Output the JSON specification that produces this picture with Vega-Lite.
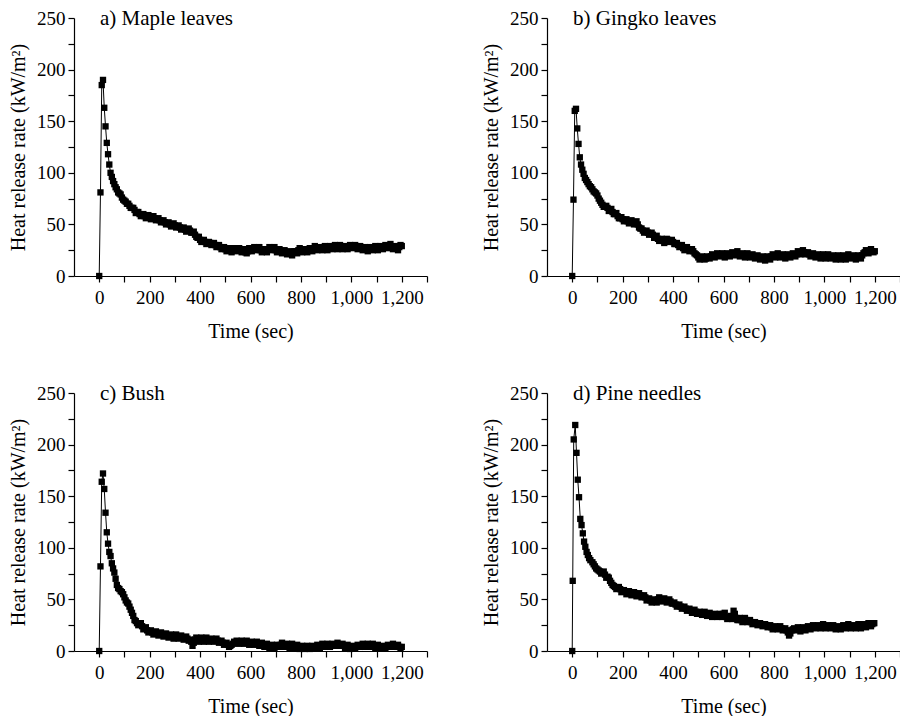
{
  "$schema": "https://vega.github.io/schema/vega-lite/v6.json",
  "padding": {"left": 8, "top": 8, "right": 0, "bottom": 0},
  "background": "white",
  "datasets": {
    "maple": [
      {"t":0,"hrr":0},{"t":5,"hrr":81},{"t":10,"hrr":185},{"t":15,"hrr":190},{"t":20,"hrr":163},{"t":25,"hrr":145},{"t":30,"hrr":129},{"t":35,"hrr":118},{"t":40,"hrr":108},{"t":45,"hrr":100},{"t":50,"hrr":96},{"t":55,"hrr":92},{"t":60,"hrr":89},{"t":65,"hrr":86},{"t":70,"hrr":84},{"t":80,"hrr":80},{"t":90,"hrr":76},{"t":100,"hrr":73},{"t":110,"hrr":70},{"t":120,"hrr":68},{"t":130,"hrr":66},{"t":140,"hrr":64},{"t":150,"hrr":62},{"t":160,"hrr":60},{"t":170,"hrr":59},{"t":180,"hrr":58},{"t":190,"hrr":58},{"t":200,"hrr":57},{"t":210,"hrr":57},{"t":220,"hrr":56},{"t":230,"hrr":55},{"t":240,"hrr":54},{"t":250,"hrr":53},{"t":260,"hrr":52},{"t":270,"hrr":51},{"t":280,"hrr":50},{"t":290,"hrr":50},{"t":300,"hrr":49},{"t":310,"hrr":48},{"t":320,"hrr":47},{"t":330,"hrr":46},{"t":340,"hrr":45},{"t":350,"hrr":44},{"t":360,"hrr":44},{"t":370,"hrr":42},{"t":380,"hrr":40},{"t":390,"hrr":37},{"t":400,"hrr":35},{"t":410,"hrr":34},{"t":420,"hrr":33},{"t":430,"hrr":32},{"t":440,"hrr":32},{"t":450,"hrr":31},{"t":460,"hrr":30},{"t":470,"hrr":29},{"t":480,"hrr":28},{"t":490,"hrr":27},{"t":500,"hrr":26},{"t":510,"hrr":25},{"t":520,"hrr":25},{"t":530,"hrr":26},{"t":540,"hrr":26},{"t":550,"hrr":25},{"t":560,"hrr":25},{"t":570,"hrr":24},{"t":580,"hrr":23},{"t":590,"hrr":24},{"t":600,"hrr":26},{"t":610,"hrr":27},{"t":620,"hrr":27},{"t":630,"hrr":26},{"t":640,"hrr":25},{"t":650,"hrr":25},{"t":660,"hrr":24},{"t":670,"hrr":26},{"t":680,"hrr":27},{"t":690,"hrr":26},{"t":700,"hrr":25},{"t":710,"hrr":25},{"t":720,"hrr":24},{"t":730,"hrr":24},{"t":740,"hrr":23},{"t":750,"hrr":22},{"t":760,"hrr":22},{"t":770,"hrr":23},{"t":780,"hrr":24},{"t":790,"hrr":25},{"t":800,"hrr":25},{"t":810,"hrr":24},{"t":820,"hrr":24},{"t":830,"hrr":25},{"t":840,"hrr":26},{"t":850,"hrr":27},{"t":860,"hrr":27},{"t":870,"hrr":26},{"t":880,"hrr":26},{"t":890,"hrr":27},{"t":900,"hrr":27},{"t":910,"hrr":27},{"t":920,"hrr":27},{"t":930,"hrr":28},{"t":940,"hrr":28},{"t":950,"hrr":28},{"t":960,"hrr":28},{"t":970,"hrr":27},{"t":980,"hrr":27},{"t":990,"hrr":28},{"t":1000,"hrr":28},{"t":1010,"hrr":28},{"t":1020,"hrr":28},{"t":1030,"hrr":27},{"t":1040,"hrr":27},{"t":1050,"hrr":26},{"t":1060,"hrr":26},{"t":1070,"hrr":26},{"t":1080,"hrr":27},{"t":1090,"hrr":27},{"t":1100,"hrr":27},{"t":1110,"hrr":27},{"t":1120,"hrr":28},{"t":1130,"hrr":28},{"t":1140,"hrr":29},{"t":1150,"hrr":29},{"t":1160,"hrr":28},{"t":1170,"hrr":27},{"t":1180,"hrr":27},{"t":1190,"hrr":28},{"t":1200,"hrr":29},
      {"t":75,"hrr":81},{"t":85,"hrr":79},{"t":95,"hrr":74},{"t":105,"hrr":72},{"t":115,"hrr":70},{"t":125,"hrr":66},{"t":135,"hrr":66},{"t":145,"hrr":61},{"t":155,"hrr":62},{"t":165,"hrr":58},{"t":175,"hrr":60},{"t":185,"hrr":56},{"t":195,"hrr":59},{"t":205,"hrr":55},{"t":215,"hrr":58},{"t":225,"hrr":54},{"t":235,"hrr":56},{"t":245,"hrr":52},{"t":255,"hrr":54},{"t":265,"hrr":50},{"t":275,"hrr":52},{"t":285,"hrr":48},{"t":295,"hrr":51},{"t":305,"hrr":47},{"t":315,"hrr":49},{"t":325,"hrr":45},{"t":335,"hrr":47},{"t":345,"hrr":43},{"t":355,"hrr":46},{"t":365,"hrr":42},{"t":375,"hrr":43},{"t":385,"hrr":38},{"t":395,"hrr":38},{"t":405,"hrr":33},{"t":415,"hrr":35},{"t":425,"hrr":31},{"t":435,"hrr":33},{"t":445,"hrr":30},{"t":455,"hrr":32},{"t":465,"hrr":28},{"t":475,"hrr":30},{"t":485,"hrr":26},{"t":495,"hrr":28},{"t":505,"hrr":24},{"t":515,"hrr":27},{"t":525,"hrr":23},{"t":535,"hrr":27},{"t":545,"hrr":24},{"t":555,"hrr":27},{"t":565,"hrr":23},{"t":575,"hrr":26},{"t":585,"hrr":22},{"t":595,"hrr":27},{"t":605,"hrr":24},{"t":615,"hrr":28},{"t":625,"hrr":25},{"t":635,"hrr":28},{"t":645,"hrr":23},{"t":655,"hrr":26},{"t":665,"hrr":23},{"t":675,"hrr":28},{"t":685,"hrr":25},{"t":695,"hrr":28},{"t":705,"hrr":23},{"t":715,"hrr":26},{"t":725,"hrr":22},{"t":735,"hrr":25},{"t":745,"hrr":21},{"t":755,"hrr":24},{"t":765,"hrr":20},{"t":775,"hrr":24},{"t":785,"hrr":22},{"t":795,"hrr":27},{"t":805,"hrr":23},{"t":815,"hrr":26},{"t":825,"hrr":23},{"t":835,"hrr":27},{"t":845,"hrr":24},{"t":855,"hrr":29},{"t":865,"hrr":25},{"t":875,"hrr":28},{"t":885,"hrr":25},{"t":895,"hrr":29},{"t":905,"hrr":25},{"t":915,"hrr":29},{"t":925,"hrr":26},{"t":935,"hrr":30},{"t":945,"hrr":26},{"t":955,"hrr":30},{"t":965,"hrr":26},{"t":975,"hrr":29},{"t":985,"hrr":26},{"t":995,"hrr":30},{"t":1005,"hrr":27},{"t":1015,"hrr":30},{"t":1025,"hrr":26},{"t":1035,"hrr":29},{"t":1045,"hrr":25},{"t":1055,"hrr":28},{"t":1065,"hrr":24},{"t":1075,"hrr":28},{"t":1085,"hrr":25},{"t":1095,"hrr":29},{"t":1105,"hrr":25},{"t":1115,"hrr":29},{"t":1125,"hrr":26},{"t":1135,"hrr":30},{"t":1145,"hrr":27},{"t":1155,"hrr":31},{"t":1165,"hrr":26},{"t":1175,"hrr":29},{"t":1185,"hrr":25},{"t":1195,"hrr":30}
    ],
    "gingko": [
      {"t":0,"hrr":0},{"t":5,"hrr":74},{"t":10,"hrr":160},{"t":15,"hrr":162},{"t":20,"hrr":143},{"t":25,"hrr":128},{"t":30,"hrr":115},{"t":35,"hrr":108},{"t":40,"hrr":103},{"t":45,"hrr":99},{"t":50,"hrr":95},{"t":55,"hrr":93},{"t":60,"hrr":91},{"t":65,"hrr":89},{"t":70,"hrr":87},{"t":80,"hrr":84},{"t":90,"hrr":81},{"t":100,"hrr":78},{"t":110,"hrr":73},{"t":120,"hrr":69},{"t":130,"hrr":67},{"t":140,"hrr":66},{"t":150,"hrr":64},{"t":160,"hrr":62},{"t":170,"hrr":60},{"t":180,"hrr":58},{"t":190,"hrr":56},{"t":200,"hrr":55},{"t":210,"hrr":54},{"t":220,"hrr":53},{"t":230,"hrr":52},{"t":240,"hrr":52},{"t":250,"hrr":51},{"t":260,"hrr":50},{"t":270,"hrr":46},{"t":280,"hrr":44},{"t":290,"hrr":43},{"t":300,"hrr":42},{"t":310,"hrr":41},{"t":320,"hrr":40},{"t":330,"hrr":38},{"t":340,"hrr":36},{"t":350,"hrr":35},{"t":360,"hrr":34},{"t":370,"hrr":35},{"t":380,"hrr":35},{"t":390,"hrr":34},{"t":400,"hrr":33},{"t":410,"hrr":31},{"t":420,"hrr":30},{"t":430,"hrr":29},{"t":440,"hrr":27},{"t":450,"hrr":27},{"t":460,"hrr":26},{"t":470,"hrr":25},{"t":480,"hrr":24},{"t":490,"hrr":21},{"t":500,"hrr":18},{"t":510,"hrr":17},{"t":520,"hrr":17},{"t":530,"hrr":17},{"t":540,"hrr":18},{"t":550,"hrr":19},{"t":560,"hrr":19},{"t":570,"hrr":20},{"t":580,"hrr":21},{"t":590,"hrr":20},{"t":600,"hrr":20},{"t":610,"hrr":20},{"t":620,"hrr":20},{"t":630,"hrr":21},{"t":640,"hrr":22},{"t":650,"hrr":22},{"t":660,"hrr":21},{"t":670,"hrr":20},{"t":680,"hrr":20},{"t":690,"hrr":20},{"t":700,"hrr":20},{"t":710,"hrr":19},{"t":720,"hrr":19},{"t":730,"hrr":18},{"t":740,"hrr":18},{"t":750,"hrr":17},{"t":760,"hrr":17},{"t":770,"hrr":17},{"t":780,"hrr":18},{"t":790,"hrr":19},{"t":800,"hrr":19},{"t":810,"hrr":20},{"t":820,"hrr":20},{"t":830,"hrr":19},{"t":840,"hrr":19},{"t":850,"hrr":19},{"t":860,"hrr":19},{"t":870,"hrr":20},{"t":880,"hrr":20},{"t":890,"hrr":21},{"t":900,"hrr":22},{"t":910,"hrr":23},{"t":920,"hrr":23},{"t":930,"hrr":22},{"t":940,"hrr":21},{"t":950,"hrr":21},{"t":960,"hrr":20},{"t":970,"hrr":20},{"t":980,"hrr":19},{"t":990,"hrr":19},{"t":1000,"hrr":19},{"t":1010,"hrr":19},{"t":1020,"hrr":19},{"t":1030,"hrr":19},{"t":1040,"hrr":18},{"t":1050,"hrr":18},{"t":1060,"hrr":18},{"t":1070,"hrr":18},{"t":1080,"hrr":18},{"t":1090,"hrr":19},{"t":1100,"hrr":19},{"t":1110,"hrr":18},{"t":1120,"hrr":18},{"t":1130,"hrr":18},{"t":1140,"hrr":18},{"t":1150,"hrr":20},{"t":1160,"hrr":23},{"t":1170,"hrr":24},{"t":1180,"hrr":24},{"t":1190,"hrr":24},{"t":1200,"hrr":24},
      {"t":75,"hrr":86},{"t":85,"hrr":82},{"t":95,"hrr":80},{"t":105,"hrr":75},{"t":115,"hrr":71},{"t":125,"hrr":67},{"t":135,"hrr":68},{"t":145,"hrr":63},{"t":155,"hrr":65},{"t":165,"hrr":60},{"t":175,"hrr":61},{"t":185,"hrr":56},{"t":195,"hrr":57},{"t":205,"hrr":53},{"t":215,"hrr":55},{"t":225,"hrr":51},{"t":235,"hrr":54},{"t":245,"hrr":50},{"t":255,"hrr":53},{"t":265,"hrr":47},{"t":275,"hrr":46},{"t":285,"hrr":42},{"t":295,"hrr":44},{"t":305,"hrr":40},{"t":315,"hrr":42},{"t":325,"hrr":37},{"t":335,"hrr":39},{"t":345,"hrr":34},{"t":355,"hrr":36},{"t":365,"hrr":32},{"t":375,"hrr":36},{"t":385,"hrr":33},{"t":395,"hrr":35},{"t":405,"hrr":31},{"t":415,"hrr":32},{"t":425,"hrr":28},{"t":435,"hrr":30},{"t":445,"hrr":25},{"t":455,"hrr":28},{"t":465,"hrr":24},{"t":475,"hrr":26},{"t":485,"hrr":22},{"t":495,"hrr":20},{"t":505,"hrr":16},{"t":515,"hrr":19},{"t":525,"hrr":16},{"t":535,"hrr":19},{"t":545,"hrr":17},{"t":555,"hrr":21},{"t":565,"hrr":18},{"t":575,"hrr":22},{"t":585,"hrr":19},{"t":595,"hrr":22},{"t":605,"hrr":18},{"t":615,"hrr":22},{"t":625,"hrr":19},{"t":635,"hrr":23},{"t":645,"hrr":20},{"t":655,"hrr":24},{"t":665,"hrr":19},{"t":675,"hrr":22},{"t":685,"hrr":18},{"t":695,"hrr":22},{"t":705,"hrr":18},{"t":715,"hrr":21},{"t":725,"hrr":17},{"t":735,"hrr":20},{"t":745,"hrr":16},{"t":755,"hrr":19},{"t":765,"hrr":15},{"t":775,"hrr":19},{"t":785,"hrr":16},{"t":795,"hrr":21},{"t":805,"hrr":18},{"t":815,"hrr":22},{"t":825,"hrr":18},{"t":835,"hrr":21},{"t":845,"hrr":17},{"t":855,"hrr":21},{"t":865,"hrr":18},{"t":875,"hrr":22},{"t":885,"hrr":19},{"t":895,"hrr":24},{"t":905,"hrr":21},{"t":915,"hrr":25},{"t":925,"hrr":21},{"t":935,"hrr":23},{"t":945,"hrr":19},{"t":955,"hrr":22},{"t":965,"hrr":18},{"t":975,"hrr":21},{"t":985,"hrr":17},{"t":995,"hrr":21},{"t":1005,"hrr":17},{"t":1015,"hrr":21},{"t":1025,"hrr":17},{"t":1035,"hrr":20},{"t":1045,"hrr":16},{"t":1055,"hrr":20},{"t":1065,"hrr":16},{"t":1075,"hrr":20},{"t":1085,"hrr":16},{"t":1095,"hrr":21},{"t":1105,"hrr":17},{"t":1115,"hrr":20},{"t":1125,"hrr":16},{"t":1135,"hrr":20},{"t":1145,"hrr":17},{"t":1155,"hrr":22},{"t":1165,"hrr":25},{"t":1175,"hrr":22},{"t":1185,"hrr":26},{"t":1195,"hrr":23}
    ],
    "bush": [
      {"t":0,"hrr":0},{"t":5,"hrr":82},{"t":10,"hrr":164},{"t":15,"hrr":172},{"t":20,"hrr":157},{"t":25,"hrr":134},{"t":30,"hrr":115},{"t":35,"hrr":104},{"t":40,"hrr":96},{"t":45,"hrr":92},{"t":50,"hrr":85},{"t":55,"hrr":80},{"t":60,"hrr":76},{"t":65,"hrr":70},{"t":70,"hrr":64},{"t":75,"hrr":61},{"t":80,"hrr":60},{"t":90,"hrr":57},{"t":100,"hrr":52},{"t":110,"hrr":47},{"t":120,"hrr":43},{"t":130,"hrr":37},{"t":140,"hrr":30},{"t":150,"hrr":27},{"t":160,"hrr":26},{"t":170,"hrr":24},{"t":180,"hrr":22},{"t":190,"hrr":20},{"t":200,"hrr":19},{"t":210,"hrr":18},{"t":220,"hrr":17},{"t":230,"hrr":17},{"t":240,"hrr":17},{"t":250,"hrr":16},{"t":260,"hrr":15},{"t":270,"hrr":15},{"t":280,"hrr":14},{"t":290,"hrr":14},{"t":300,"hrr":15},{"t":310,"hrr":14},{"t":320,"hrr":14},{"t":330,"hrr":13},{"t":340,"hrr":13},{"t":350,"hrr":12},{"t":360,"hrr":11},{"t":370,"hrr":5},{"t":380,"hrr":11},{"t":390,"hrr":11},{"t":400,"hrr":11},{"t":410,"hrr":11},{"t":420,"hrr":11},{"t":430,"hrr":10},{"t":440,"hrr":11},{"t":450,"hrr":11},{"t":460,"hrr":10},{"t":470,"hrr":10},{"t":480,"hrr":9},{"t":490,"hrr":8},{"t":500,"hrr":7},{"t":510,"hrr":6},{"t":520,"hrr":5},{"t":530,"hrr":7},{"t":540,"hrr":8},{"t":550,"hrr":9},{"t":560,"hrr":9},{"t":570,"hrr":9},{"t":580,"hrr":8},{"t":590,"hrr":8},{"t":600,"hrr":8},{"t":610,"hrr":8},{"t":620,"hrr":7},{"t":630,"hrr":7},{"t":640,"hrr":7},{"t":650,"hrr":6},{"t":660,"hrr":6},{"t":670,"hrr":5},{"t":680,"hrr":5},{"t":690,"hrr":5},{"t":700,"hrr":4},{"t":710,"hrr":5},{"t":720,"hrr":6},{"t":730,"hrr":6},{"t":740,"hrr":6},{"t":750,"hrr":5},{"t":760,"hrr":5},{"t":770,"hrr":5},{"t":780,"hrr":4},{"t":790,"hrr":4},{"t":800,"hrr":4},{"t":810,"hrr":3},{"t":820,"hrr":3},{"t":830,"hrr":3},{"t":840,"hrr":4},{"t":850,"hrr":4},{"t":860,"hrr":4},{"t":870,"hrr":4},{"t":880,"hrr":5},{"t":890,"hrr":5},{"t":900,"hrr":5},{"t":910,"hrr":5},{"t":920,"hrr":5},{"t":930,"hrr":6},{"t":940,"hrr":6},{"t":950,"hrr":6},{"t":960,"hrr":6},{"t":970,"hrr":5},{"t":980,"hrr":4},{"t":990,"hrr":4},{"t":1000,"hrr":4},{"t":1010,"hrr":4},{"t":1020,"hrr":4},{"t":1030,"hrr":5},{"t":1040,"hrr":5},{"t":1050,"hrr":5},{"t":1060,"hrr":5},{"t":1070,"hrr":5},{"t":1080,"hrr":5},{"t":1090,"hrr":5},{"t":1100,"hrr":4},{"t":1110,"hrr":4},{"t":1120,"hrr":4},{"t":1130,"hrr":4},{"t":1140,"hrr":4},{"t":1150,"hrr":5},{"t":1160,"hrr":5},{"t":1170,"hrr":5},{"t":1180,"hrr":4},{"t":1190,"hrr":4},{"t":1200,"hrr":4},
      {"t":85,"hrr":58},{"t":95,"hrr":55},{"t":105,"hrr":49},{"t":115,"hrr":46},{"t":125,"hrr":40},{"t":135,"hrr":34},{"t":145,"hrr":29},{"t":155,"hrr":25},{"t":165,"hrr":27},{"t":175,"hrr":21},{"t":185,"hrr":23},{"t":195,"hrr":18},{"t":205,"hrr":20},{"t":215,"hrr":16},{"t":225,"hrr":19},{"t":235,"hrr":15},{"t":245,"hrr":18},{"t":255,"hrr":14},{"t":265,"hrr":17},{"t":275,"hrr":13},{"t":285,"hrr":16},{"t":295,"hrr":12},{"t":305,"hrr":16},{"t":315,"hrr":12},{"t":325,"hrr":15},{"t":335,"hrr":11},{"t":345,"hrr":14},{"t":355,"hrr":10},{"t":365,"hrr":9},{"t":375,"hrr":8},{"t":385,"hrr":13},{"t":395,"hrr":9},{"t":405,"hrr":13},{"t":415,"hrr":9},{"t":425,"hrr":13},{"t":435,"hrr":9},{"t":445,"hrr":12},{"t":455,"hrr":9},{"t":465,"hrr":12},{"t":475,"hrr":8},{"t":485,"hrr":10},{"t":495,"hrr":6},{"t":505,"hrr":8},{"t":515,"hrr":4},{"t":525,"hrr":6},{"t":535,"hrr":9},{"t":545,"hrr":10},{"t":555,"hrr":7},{"t":565,"hrr":10},{"t":575,"hrr":7},{"t":585,"hrr":10},{"t":595,"hrr":6},{"t":605,"hrr":9},{"t":615,"hrr":6},{"t":625,"hrr":9},{"t":635,"hrr":5},{"t":645,"hrr":8},{"t":655,"hrr":4},{"t":665,"hrr":7},{"t":675,"hrr":3},{"t":685,"hrr":6},{"t":695,"hrr":3},{"t":705,"hrr":6},{"t":715,"hrr":4},{"t":725,"hrr":8},{"t":735,"hrr":4},{"t":745,"hrr":7},{"t":755,"hrr":3},{"t":765,"hrr":7},{"t":775,"hrr":3},{"t":785,"hrr":6},{"t":795,"hrr":2},{"t":805,"hrr":5},{"t":815,"hrr":2},{"t":825,"hrr":5},{"t":835,"hrr":2},{"t":845,"hrr":5},{"t":855,"hrr":3},{"t":865,"hrr":6},{"t":875,"hrr":3},{"t":885,"hrr":7},{"t":895,"hrr":4},{"t":905,"hrr":7},{"t":915,"hrr":4},{"t":925,"hrr":7},{"t":935,"hrr":5},{"t":945,"hrr":8},{"t":955,"hrr":5},{"t":965,"hrr":7},{"t":975,"hrr":3},{"t":985,"hrr":6},{"t":995,"hrr":2},{"t":1005,"hrr":5},{"t":1015,"hrr":3},{"t":1025,"hrr":6},{"t":1035,"hrr":4},{"t":1045,"hrr":7},{"t":1055,"hrr":4},{"t":1065,"hrr":7},{"t":1075,"hrr":4},{"t":1085,"hrr":7},{"t":1095,"hrr":3},{"t":1105,"hrr":6},{"t":1115,"hrr":3},{"t":1125,"hrr":5},{"t":1135,"hrr":3},{"t":1145,"hrr":6},{"t":1155,"hrr":4},{"t":1165,"hrr":7},{"t":1175,"hrr":4},{"t":1185,"hrr":6},{"t":1195,"hrr":3}
    ],
    "pine": [
      {"t":0,"hrr":0},{"t":2,"hrr":68},{"t":6,"hrr":205},{"t":12,"hrr":219},{"t":17,"hrr":192},{"t":22,"hrr":166},{"t":27,"hrr":149},{"t":32,"hrr":128},{"t":37,"hrr":122},{"t":42,"hrr":114},{"t":47,"hrr":106},{"t":52,"hrr":101},{"t":57,"hrr":96},{"t":62,"hrr":93},{"t":67,"hrr":90},{"t":72,"hrr":88},{"t":80,"hrr":86},{"t":90,"hrr":82},{"t":100,"hrr":79},{"t":110,"hrr":77},{"t":120,"hrr":76},{"t":130,"hrr":74},{"t":140,"hrr":72},{"t":150,"hrr":68},{"t":160,"hrr":64},{"t":170,"hrr":62},{"t":180,"hrr":61},{"t":190,"hrr":60},{"t":200,"hrr":58},{"t":210,"hrr":58},{"t":220,"hrr":57},{"t":230,"hrr":57},{"t":240,"hrr":56},{"t":250,"hrr":56},{"t":260,"hrr":55},{"t":270,"hrr":54},{"t":280,"hrr":53},{"t":290,"hrr":52},{"t":300,"hrr":50},{"t":310,"hrr":49},{"t":320,"hrr":48},{"t":330,"hrr":48},{"t":340,"hrr":50},{"t":350,"hrr":50},{"t":360,"hrr":50},{"t":370,"hrr":49},{"t":380,"hrr":49},{"t":390,"hrr":48},{"t":400,"hrr":46},{"t":410,"hrr":45},{"t":420,"hrr":44},{"t":430,"hrr":43},{"t":440,"hrr":42},{"t":450,"hrr":41},{"t":460,"hrr":40},{"t":470,"hrr":39},{"t":480,"hrr":38},{"t":490,"hrr":38},{"t":500,"hrr":37},{"t":510,"hrr":37},{"t":520,"hrr":36},{"t":530,"hrr":36},{"t":540,"hrr":36},{"t":550,"hrr":35},{"t":560,"hrr":35},{"t":570,"hrr":34},{"t":580,"hrr":34},{"t":590,"hrr":35},{"t":600,"hrr":36},{"t":610,"hrr":33},{"t":620,"hrr":32},{"t":630,"hrr":34},{"t":640,"hrr":39},{"t":650,"hrr":32},{"t":660,"hrr":30},{"t":670,"hrr":30},{"t":680,"hrr":31},{"t":690,"hrr":30},{"t":700,"hrr":29},{"t":710,"hrr":28},{"t":720,"hrr":27},{"t":730,"hrr":27},{"t":740,"hrr":26},{"t":750,"hrr":26},{"t":760,"hrr":25},{"t":770,"hrr":25},{"t":780,"hrr":24},{"t":790,"hrr":23},{"t":800,"hrr":22},{"t":810,"hrr":22},{"t":820,"hrr":23},{"t":830,"hrr":22},{"t":840,"hrr":21},{"t":850,"hrr":20},{"t":860,"hrr":15},{"t":870,"hrr":20},{"t":880,"hrr":22},{"t":890,"hrr":21},{"t":900,"hrr":21},{"t":910,"hrr":21},{"t":920,"hrr":22},{"t":930,"hrr":22},{"t":940,"hrr":23},{"t":950,"hrr":23},{"t":960,"hrr":23},{"t":970,"hrr":24},{"t":980,"hrr":24},{"t":990,"hrr":24},{"t":1000,"hrr":24},{"t":1010,"hrr":24},{"t":1020,"hrr":24},{"t":1030,"hrr":24},{"t":1040,"hrr":23},{"t":1050,"hrr":23},{"t":1060,"hrr":23},{"t":1070,"hrr":23},{"t":1080,"hrr":24},{"t":1090,"hrr":24},{"t":1100,"hrr":24},{"t":1110,"hrr":24},{"t":1120,"hrr":24},{"t":1130,"hrr":24},{"t":1140,"hrr":24},{"t":1150,"hrr":25},{"t":1160,"hrr":25},{"t":1170,"hrr":25},{"t":1180,"hrr":25},{"t":1190,"hrr":26},{"t":1198,"hrr":27},
      {"t":85,"hrr":84},{"t":95,"hrr":80},{"t":105,"hrr":78},{"t":115,"hrr":75},{"t":125,"hrr":77},{"t":135,"hrr":71},{"t":145,"hrr":71},{"t":155,"hrr":66},{"t":165,"hrr":63},{"t":175,"hrr":60},{"t":185,"hrr":62},{"t":195,"hrr":57},{"t":205,"hrr":59},{"t":215,"hrr":55},{"t":225,"hrr":58},{"t":235,"hrr":54},{"t":245,"hrr":57},{"t":255,"hrr":53},{"t":265,"hrr":56},{"t":275,"hrr":52},{"t":285,"hrr":54},{"t":295,"hrr":49},{"t":305,"hrr":51},{"t":315,"hrr":47},{"t":325,"hrr":50},{"t":335,"hrr":47},{"t":345,"hrr":52},{"t":355,"hrr":48},{"t":365,"hrr":51},{"t":375,"hrr":47},{"t":385,"hrr":50},{"t":395,"hrr":46},{"t":405,"hrr":47},{"t":415,"hrr":43},{"t":425,"hrr":45},{"t":435,"hrr":41},{"t":445,"hrr":43},{"t":455,"hrr":39},{"t":465,"hrr":41},{"t":475,"hrr":37},{"t":485,"hrr":40},{"t":495,"hrr":36},{"t":505,"hrr":38},{"t":515,"hrr":35},{"t":525,"hrr":38},{"t":535,"hrr":34},{"t":545,"hrr":37},{"t":555,"hrr":33},{"t":565,"hrr":36},{"t":575,"hrr":33},{"t":585,"hrr":36},{"t":595,"hrr":33},{"t":605,"hrr":37},{"t":615,"hrr":31},{"t":625,"hrr":33},{"t":635,"hrr":31},{"t":645,"hrr":36},{"t":655,"hrr":30},{"t":665,"hrr":32},{"t":675,"hrr":28},{"t":685,"hrr":32},{"t":695,"hrr":28},{"t":705,"hrr":30},{"t":715,"hrr":26},{"t":725,"hrr":28},{"t":735,"hrr":25},{"t":745,"hrr":27},{"t":755,"hrr":24},{"t":765,"hrr":26},{"t":775,"hrr":23},{"t":785,"hrr":25},{"t":795,"hrr":21},{"t":805,"hrr":24},{"t":815,"hrr":21},{"t":825,"hrr":24},{"t":835,"hrr":20},{"t":845,"hrr":22},{"t":855,"hrr":18},{"t":865,"hrr":17},{"t":875,"hrr":21},{"t":885,"hrr":20},{"t":895,"hrr":23},{"t":905,"hrr":19},{"t":915,"hrr":23},{"t":925,"hrr":20},{"t":935,"hrr":24},{"t":945,"hrr":21},{"t":955,"hrr":25},{"t":965,"hrr":22},{"t":975,"hrr":25},{"t":985,"hrr":22},{"t":995,"hrr":26},{"t":1005,"hrr":22},{"t":1015,"hrr":25},{"t":1025,"hrr":22},{"t":1035,"hrr":25},{"t":1045,"hrr":21},{"t":1055,"hrr":24},{"t":1065,"hrr":21},{"t":1075,"hrr":25},{"t":1085,"hrr":22},{"t":1095,"hrr":26},{"t":1105,"hrr":22},{"t":1115,"hrr":25},{"t":1125,"hrr":22},{"t":1135,"hrr":26},{"t":1145,"hrr":22},{"t":1155,"hrr":26},{"t":1165,"hrr":23},{"t":1175,"hrr":27},{"t":1185,"hrr":24},{"t":1195,"hrr":27}
    ]
  },
  "columns": 2,
  "spacing": {"row": 117, "column": 120},
  "bounds": "flush",
  "concat": [
    {
      "width": 353, "height": 258,
      "data": {"name": "maple"},
      "title": {"text": "a) Maple leaves", "anchor": "start", "frame": "group", "dx": 26, "offset": -31, "baseline": "middle"},
      "encoding": {
        "x": {"field": "t", "type": "quantitative", "title": "Time (sec)", "scale": {"domain": [-100, 1300], "nice": false, "zero": false}, "axis": {"values": [0,100,200,300,400,500,600,700,800,900,1000,1100,1200,1300], "labelExpr": "datum.value % 200 === 0 && datum.value <= 1200 ? format(datum.value, ',') : ''"}},
        "y": {"field": "hrr", "type": "quantitative", "title": "Heat release rate (kW/m²)", "scale": {"domain": [0, 250], "nice": false}, "axis": {"values": [0,25,50,75,100,125,150,175,200,225,250], "labelExpr": "datum.value % 50 === 0 ? datum.value : ''"}}
      },
      "layer": [
        {"mark": {"type": "line", "color": "black", "strokeWidth": 1}},
        {"mark": {"type": "square", "color": "black", "size": 40, "opacity": 1}}
      ]
    },
    {
      "width": 353, "height": 258,
      "data": {"name": "gingko"},
      "title": {"text": "b) Gingko leaves", "anchor": "start", "frame": "group", "dx": 26, "offset": -31, "baseline": "middle"},
      "encoding": {
        "x": {"field": "t", "type": "quantitative", "title": "Time (sec)", "scale": {"domain": [-100, 1300], "nice": false, "zero": false}, "axis": {"values": [0,100,200,300,400,500,600,700,800,900,1000,1100,1200,1300], "labelExpr": "datum.value % 200 === 0 && datum.value <= 1200 ? format(datum.value, ',') : ''"}},
        "y": {"field": "hrr", "type": "quantitative", "title": "Heat release rate (kW/m²)", "scale": {"domain": [0, 250], "nice": false}, "axis": {"values": [0,25,50,75,100,125,150,175,200,225,250], "labelExpr": "datum.value % 50 === 0 ? datum.value : ''"}}
      },
      "layer": [
        {"mark": {"type": "line", "color": "black", "strokeWidth": 1}},
        {"mark": {"type": "square", "color": "black", "size": 40, "opacity": 1}}
      ]
    },
    {
      "width": 353, "height": 258,
      "data": {"name": "bush"},
      "title": {"text": "c) Bush", "anchor": "start", "frame": "group", "dx": 26, "offset": -31, "baseline": "middle"},
      "encoding": {
        "x": {"field": "t", "type": "quantitative", "title": "Time (sec)", "scale": {"domain": [-100, 1300], "nice": false, "zero": false}, "axis": {"values": [0,100,200,300,400,500,600,700,800,900,1000,1100,1200,1300], "labelExpr": "datum.value % 200 === 0 && datum.value <= 1200 ? format(datum.value, ',') : ''"}},
        "y": {"field": "hrr", "type": "quantitative", "title": "Heat release rate (kW/m²)", "scale": {"domain": [0, 250], "nice": false}, "axis": {"values": [0,25,50,75,100,125,150,175,200,225,250], "labelExpr": "datum.value % 50 === 0 ? datum.value : ''"}}
      },
      "layer": [
        {"mark": {"type": "line", "color": "black", "strokeWidth": 1}},
        {"mark": {"type": "square", "color": "black", "size": 40, "opacity": 1}}
      ]
    },
    {
      "width": 353, "height": 258,
      "data": {"name": "pine"},
      "title": {"text": "d) Pine needles", "anchor": "start", "frame": "group", "dx": 26, "offset": -31, "baseline": "middle"},
      "encoding": {
        "x": {"field": "t", "type": "quantitative", "title": "Time (sec)", "scale": {"domain": [-100, 1300], "nice": false, "zero": false}, "axis": {"values": [0,100,200,300,400,500,600,700,800,900,1000,1100,1200,1300], "labelExpr": "datum.value % 200 === 0 && datum.value <= 1200 ? format(datum.value, ',') : ''"}},
        "y": {"field": "hrr", "type": "quantitative", "title": "Heat release rate (kW/m²)", "scale": {"domain": [0, 250], "nice": false}, "axis": {"values": [0,25,50,75,100,125,150,175,200,225,250], "labelExpr": "datum.value % 50 === 0 ? datum.value : ''"}}
      },
      "layer": [
        {"mark": {"type": "line", "color": "black", "strokeWidth": 1}},
        {"mark": {"type": "square", "color": "black", "size": 40, "opacity": 1}}
      ]
    }
  ],
  "config": {
    "view": {"stroke": null},
    "axis": {
      "grid": false,
      "domainColor": "black", "domainWidth": 1.2,
      "tickColor": "black", "tickWidth": 1.2,
      "tickSize": {"condition": {"test": "datum.label !== ''", "value": 6}, "value": 3},
      "labelColor": "black", "labelFont": "Liberation Serif", "labelFontSize": 19,
      "titleColor": "black", "titleFont": "Liberation Serif", "titleFontSize": 20, "titleFontWeight": "normal",
      "labelOverlap": false, "labelFlush": false, "labelBound": false
    },
    "axisX": {"labelPadding": 6, "titlePadding": 14},
    "axisY": {"labelPadding": 3, "titlePadding": 8},
    "title": {"font": "Liberation Serif", "fontSize": 21, "fontWeight": "normal", "color": "black"}
  }
}
